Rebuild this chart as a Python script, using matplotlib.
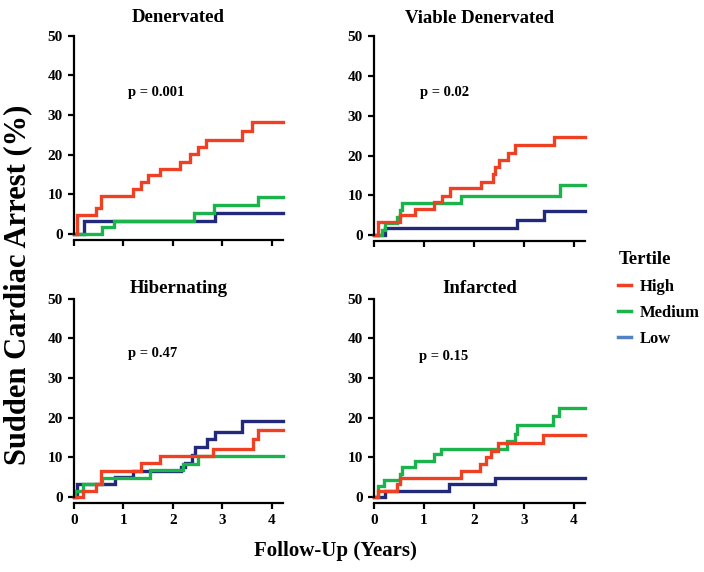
import numpy as np
import matplotlib
matplotlib.use('Agg')
import matplotlib.pyplot as plt
from matplotlib.lines import Line2D

plt.rcParams['font.family'] = 'Liberation Serif'
plt.rcParams['font.weight'] = 'bold'

# colores de las curvas
c_high = '#EE4124'
c_med = '#1BB34B'
c_low = '#22297A'
c_low_leg = '#5282C2'

titles = ['Denervated', 'Viable Denervated', 'Hibernating', 'Infarcted']
pvals = ['p = 0.001', 'p = 0.02', 'p = 0.47', 'p = 0.15']
tertiles = ['High', 'Medium', 'Low']

# Denervated
den_high_t = [0, 0.07, 0.44, 0.54, 1.20, 1.35, 1.50, 1.74, 2.14, 2.34, 2.50, 2.67, 3.39, 3.59, 4.22]
den_high_y = [0, 4.8, 6.5, 9.6, 11.3, 13.2, 14.9, 16.5, 18.2, 20.1, 22.0, 23.7, 26.0, 28.1, 28.1]
den_med_t = [0, 0.56, 0.81, 2.43, 2.83, 3.72, 4.22]
den_med_y = [0, 1.7, 3.3, 5.2, 7.3, 9.2, 9.2]
den_low_t = [0, 0.20, 2.85, 4.22]
den_low_y = [0, 3.4, 5.4, 5.4]

# Viable Denervated
via_high_t = [0, 0.07, 0.52, 0.82, 1.20, 1.35, 1.51, 2.13, 2.37, 2.42, 2.49, 2.67, 2.82, 3.60, 4.22]
via_high_y = [0, 3.2, 5.0, 6.5, 8.2, 9.9, 11.8, 13.4, 15.4, 17.1, 18.9, 20.7, 22.6, 24.7, 24.7]
via_med_t = [0, 0.15, 0.22, 0.45, 0.51, 0.55, 1.74, 3.72, 4.22]
via_med_y = [0, 1.3, 2.9, 4.6, 6.3, 8.0, 9.8, 12.6, 12.6]
via_low_t = [0, 0.22, 2.85, 3.39, 4.22]
via_low_y = [0, 1.7, 3.8, 6.0, 6.0]

# Hibernating
hib_high_t = [0, 0.19, 0.44, 0.54, 1.35, 1.74, 2.81, 3.61, 3.72, 4.22]
hib_high_y = [0, 1.6, 3.3, 6.6, 8.5, 10.3, 12.0, 14.5, 16.8, 16.8]
hib_med_t = [0, 0.02, 0.19, 0.56, 1.53, 2.20, 2.51, 4.22]
hib_med_y = [0, 1.6, 3.3, 4.9, 6.7, 8.4, 10.3, 10.3]
hib_low_t = [0, 0.06, 0.83, 1.20, 2.17, 2.25, 2.38, 2.45, 2.68, 2.85, 3.39, 4.22]
hib_low_y = [0, 3.3, 5.1, 6.6, 7.5, 8.6, 10.6, 12.7, 14.7, 16.4, 19.2, 19.2]

# Infarcted
inf_high_t = [0, 0.07, 0.45, 0.52, 1.73, 2.12, 2.23, 2.33, 2.47, 3.37, 4.22]
inf_high_y = [0, 1.6, 3.2, 4.7, 6.6, 8.3, 10.0, 11.7, 13.5, 15.6, 15.6]
inf_med_t = [0, 0.07, 0.19, 0.52, 0.55, 0.82, 1.20, 1.33, 2.65, 2.82, 2.85, 3.57, 3.70, 4.22]
inf_med_y = [0, 2.8, 4.4, 5.8, 7.5, 9.1, 10.8, 12.2, 14.1, 15.9, 18.1, 20.4, 22.5, 22.5]
inf_low_t = [0, 0.22, 1.50, 2.42, 4.22]
inf_low_y = [0, 1.6, 3.3, 4.9, 4.9]

panels = [
    [(den_high_t, den_high_y), (den_med_t, den_med_y), (den_low_t, den_low_y)],
    [(via_high_t, via_high_y), (via_med_t, via_med_y), (via_low_t, via_low_y)],
    [(hib_high_t, hib_high_y), (hib_med_t, hib_med_y), (hib_low_t, hib_low_y)],
    [(inf_high_t, inf_high_y), (inf_med_t, inf_med_y), (inf_low_t, inf_low_y)],
]
p_pos = [(1.09, 35.6), (0.92, 35.9), (1.09, 36.2), (0.90, 35.4)]
colors = [c_high, c_med, c_low]

fig = plt.figure(figsize=(7.04, 5.72), dpi=100)

rects = [
    [0.1051, 0.5909, 0.2967, 0.347],
    [0.5313, 0.5892, 0.2997, 0.347],
    [0.1051, 0.1311, 0.2967, 0.347],
    [0.5313, 0.1311, 0.2997, 0.347],
]

for i in range(4):
    ax = fig.add_axes(rects[i])
    # orden de dibujo: bajo, medio, alto encima
    for j in [2, 1, 0]:
        t, y = panels[i][j]
        ax.step(t, y, where='post', color=colors[j], lw=2.4, clip_on=False,
                solid_joinstyle='miter')
    ax.set_xlim(0, 4.22)
    ax.set_ylim(0, 50)
    ax.set_xticks([0, 1, 2, 3, 4])
    ax.set_yticks([0, 10, 20, 30, 40, 50])
    ax.spines['top'].set_visible(False)
    ax.spines['right'].set_visible(False)
    ax.spines['left'].set_linewidth(1.6)
    ax.spines['bottom'].set_linewidth(1.6)
    ax.spines['bottom'].set_position(('outward', 4.5))
    ax.tick_params(width=1.6, length=4, labelsize=11, pad=4)
    for lab in ax.get_xticklabels() + ax.get_yticklabels():
        lab.set_fontweight('bold')
    if i < 2:
        ax.set_xticklabels([])
        ax.set_title(titles[i], fontsize=13.5, fontweight='bold', pad=9.5)
    else:
        ax.set_title(titles[i], fontsize=13.5, fontweight='bold', pad=4)
    ax.text(p_pos[i][0], p_pos[i][1], pvals[i], fontsize=10.5, fontweight='bold',
            ha='left', va='center')

fig.text(18/704, 1 - 285/572, 'Sudden Cardiac Arrest (%)', rotation=90,
         fontsize=22, fontweight='bold', ha='center', va='center')
fig.text(335/704, 1 - 551/572, 'Follow-Up (Years)', fontsize=15,
         fontweight='bold', ha='center', va='center')

handles = [Line2D([], [], color=c_high, lw=2.5),
           Line2D([], [], color=c_med, lw=2.5),
           Line2D([], [], color=c_low_leg, lw=2.5)]
leg = fig.legend(handles, tertiles, title='Tertile', loc='upper left',
                 bbox_to_anchor=(610/704, 1 - 243/572), frameon=False,
                 fontsize=12, title_fontsize=13.5, handlelength=0.75,
                 handletextpad=0.55, labelspacing=0.62, borderpad=0,
                 alignment='left')
leg.get_title().set_fontweight('bold')
for txt in leg.get_texts():
    txt.set_fontweight('bold')

fig.savefig('out.png', dpi=100)
